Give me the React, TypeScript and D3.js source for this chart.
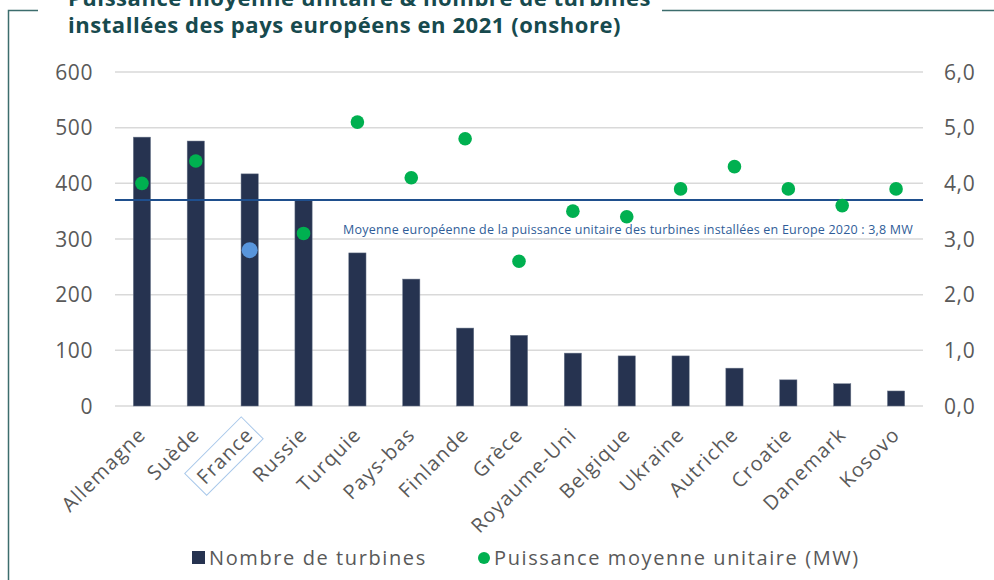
import { useRef, useEffect } from 'react';
import * as d3 from 'd3';

const COUNTRIES = [
  'Allemagne', 'Suède', 'France', 'Russie', 'Turquie', 'Pays-bas', 'Finlande', 'Grèce',
  'Royaume-Uni', 'Belgique', 'Ukraine', 'Autriche', 'Croatie', 'Danemark', 'Kosovo',
];
const TURBINES = [483, 476, 417, 370, 275, 228, 140, 127, 95, 90, 90, 68, 47, 40, 27];
const PUISSANCE = [4.0, 4.4, 2.8, 3.1, 5.1, 4.1, 4.8, 2.6, 3.5, 3.4, 3.9, 4.3, 3.9, 3.6, 3.9];
const LEFT_TICKS = [0, 100, 200, 300, 400, 500, 600];
const RIGHT_TICKS = [0, 1, 2, 3, 4, 5, 6];
const EU_AVG = 3.7;
const HIGHLIGHT = 'France';

const TITLE_1 = 'Puissance moyenne unitaire & nombre de turbines';
const TITLE_2 = 'installées des pays européens en 2021 (onshore)';
const AVG_LABEL = 'Moyenne européenne de la puissance unitaire des turbines  installées en Europe 2020 : 3,8 MW';

const FONT = '"Open Sans", "Noto Sans", sans-serif';
const TEXT_GREY = '#595959';
const BAR_COLOR = '#263350';
const DOT_COLOR = '#00b050';
const HL_COLOR = '#5895dc';
const LINE_COLOR = '#1f4f8d';
const FRAME = '#3c6d6d';

export default function App() {
  const svgRef = useRef<SVGSVGElement>(null);

  useEffect(() => {
    if (!svgRef.current) return;
    const svg = d3.select(svgRef.current);
    svg.selectAll('*').remove();

    const width = 994;
    const height = 580;
    const left = 115;
    const right = 923;
    const top = 72;
    const bottom = 406;

    const x = d3.scaleBand<string>().domain(COUNTRIES).range([left, right])
      .paddingInner(0.68).paddingOuter(0.34);
    const yL = d3.scaleLinear().domain([0, 600]).range([bottom, top]);
    const yR = d3.scaleLinear().domain([0, 6]).range([bottom, top]);

    // frame
    svg.append('path')
      .attr('d', `M38,10.5 H8.5 V${height}`)
      .attr('fill', 'none').attr('stroke', FRAME).attr('stroke-width', 1.5);
    svg.append('line')
      .attr('x1', 662).attr('x2', width).attr('y1', 10.5).attr('y2', 10.5)
      .attr('stroke', FRAME).attr('stroke-width', 1.5);

    // title (first line is cut by the top edge, as in the source)
    const title = svg.append('text')
      .attr('font-family', FONT).attr('font-weight', 700).attr('font-size', 22)
      .attr('letter-spacing', 0.55).attr('fill', '#174a4e');
    title.append('tspan').attr('x', 68).attr('y', 6).text(TITLE_1);
    title.append('tspan').attr('x', 68).attr('y', 33).text(TITLE_2);

    // grid
    svg.append('g').selectAll('line').data(LEFT_TICKS).join('line')
      .attr('x1', left).attr('x2', right)
      .attr('y1', (d) => yL(d)).attr('y2', (d) => yL(d))
      .attr('stroke', '#d9d9d9').attr('stroke-width', 1.5);

    // left axis
    svg.append('g').selectAll('text').data(LEFT_TICKS).join('text')
      .attr('x', 93).attr('y', (d) => yL(d)).attr('dy', '0.36em')
      .attr('text-anchor', 'end').attr('font-family', FONT).attr('font-size', 21)
      .attr('letter-spacing', 0.6).attr('fill', TEXT_GREY).text((d) => String(d));

    // right axis
    const fmt = (v: number) => v.toFixed(1).replace('.', ',');
    svg.append('g').selectAll('text').data(RIGHT_TICKS).join('text')
      .attr('x', 944).attr('y', (d) => yR(d)).attr('dy', '0.36em')
      .attr('text-anchor', 'start').attr('font-family', FONT).attr('font-size', 21)
      .attr('letter-spacing', 0.6).attr('fill', TEXT_GREY).text((d) => fmt(d));

    // bars
    svg.append('g').selectAll('rect').data(COUNTRIES).join('rect')
      .attr('x', (d) => x(d)!).attr('width', x.bandwidth())
      .attr('y', (_, i) => yL(TURBINES[i]))
      .attr('height', (_, i) => bottom - yL(TURBINES[i]))
      .attr('fill', BAR_COLOR).attr('stroke', '#6f7a8e').attr('stroke-width', 0.5);

    // average line
    svg.append('line')
      .attr('x1', left).attr('x2', right)
      .attr('y1', yR(EU_AVG)).attr('y2', yR(EU_AVG))
      .attr('stroke', LINE_COLOR).attr('stroke-width', 2);
    svg.append('text')
      .attr('x', 913).attr('y', yR(EU_AVG) + 34)
      .attr('text-anchor', 'end').attr('font-family', FONT)
      .attr('font-size', 12.5).attr('letter-spacing', 0.2).attr('fill', '#2f5d98').text(AVG_LABEL);

    // dots
    svg.append('g').selectAll('circle').data(COUNTRIES).join('circle')
      .attr('cx', (d) => x(d)! + x.bandwidth() / 2)
      .attr('cy', (_, i) => yR(PUISSANCE[i]))
      .attr('r', (d) => (d === HIGHLIGHT ? 8 : 6.8))
      .attr('fill', (d) => (d === HIGHLIGHT ? HL_COLOR : DOT_COLOR));

    // category labels
    const labels = svg.append('g').selectAll('g').data(COUNTRIES).join('g')
      .attr('transform', (d) => `translate(${x(d)! + x.bandwidth() / 2 + 5},${bottom + 30}) rotate(-45)`);
    labels.append('text')
      .attr('text-anchor', 'end')
      .attr('font-family', FONT).attr('font-size', 20).attr('letter-spacing', 1.2)
      .attr('fill', TEXT_GREY)
      .text((d) => d);
    labels.filter((d) => d === HIGHLIGHT).each(function () {
      const g = d3.select(this);
      const bb = (g.select('text').node() as SVGTextElement).getBBox();
      g.insert('rect', 'text')
        .attr('x', bb.x - 6).attr('y', bb.y - 2)
        .attr('width', bb.width + 10).attr('height', bb.height + 4)
        .attr('fill', 'none').attr('stroke', '#a9c8ea').attr('stroke-width', 1);
    });

    // legend
    const legend = svg.append('g').attr('font-family', FONT).attr('font-size', 20)
      .attr('letter-spacing', 1.6).attr('fill', TEXT_GREY);
    legend.append('rect').attr('x', 192).attr('y', 551).attr('width', 13).attr('height', 13).attr('fill', BAR_COLOR);
    legend.append('text').attr('x', 209).attr('y', 558).attr('dy', '0.36em').text('Nombre de turbines');
    legend.append('circle').attr('cx', 484).attr('cy', 558).attr('r', 6).attr('fill', DOT_COLOR);
    legend.append('text').attr('x', 494).attr('y', 558).attr('dy', '0.36em').text('Puissance moyenne unitaire (MW)');
  }, []);

  return (
    <svg
      ref={svgRef}
      width={994}
      height={580}
      style={{ position: 'absolute', left: 0, top: 0, background: '#ffffff', display: 'block' }}
    />
  );
}
